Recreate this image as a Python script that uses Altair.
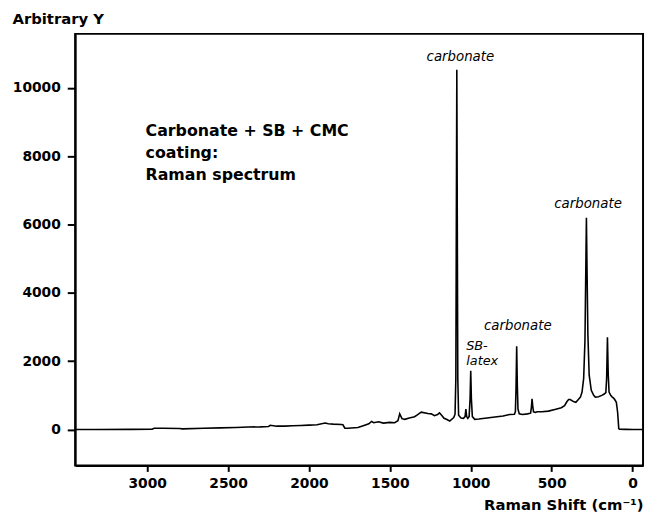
import altair as alt
import pandas as pd

# Raman spectrum (shift in cm-1, intensity in arbitrary units)
shift = [-60, 0, 40, 80, 85, 92, 100, 110, 117, 125, 135, 145, 150, 155, 160, 165, 175, 190, 210, 230,
         240, 255, 268, 276, 282, 285, 288, 294, 302, 312, 322, 335, 350, 365, 385, 395, 405, 420, 440,
         480, 520, 560, 590, 600, 612, 617, 621, 625, 630, 650, 680, 700, 708, 712, 716, 720, 724, 730,
         760, 800, 850, 900, 950, 975, 990, 996, 1000, 1004, 1010, 1018, 1025, 1030, 1035, 1045, 1060,
         1075, 1080, 1083, 1086, 1089, 1092, 1097, 1105, 1130, 1150, 1165, 1180, 1193, 1205, 1224, 1244,
         1265, 1306, 1330, 1347, 1380, 1408, 1425, 1439, 1450, 1470, 1500, 1540, 1570, 1600, 1613, 1630,
         1660, 1697, 1760, 1778, 1790, 1800, 1850, 1880, 1900, 1950, 2000, 2050, 2100, 2150, 2200, 2239,
         2250, 2300, 2374, 2450, 2550, 2650, 2782, 2800, 2900, 2957, 2970, 3100, 3300, 3445]
intensity = [0, 0, 5, 10, 30, 500, 800, 880, 920, 950, 1000, 1100, 1600, 2700, 1500, 1080, 1040, 1000, 960, 950,
             1000, 1150, 1600, 2800, 5000, 6200, 5000, 2600, 1500, 1100, 950, 880, 800, 820, 880, 880, 820, 700, 640,
             590, 540, 520, 520, 500, 520, 700, 900, 650, 480, 460, 440, 460, 600, 1300, 2440, 1200, 520, 450,
             440, 400, 370, 340, 310, 300, 380, 900, 1720, 900, 380, 330, 380, 600, 380, 330, 340,
             420, 1500, 6000, 10530, 6000, 1500, 450, 350, 250, 300, 330, 420, 490, 440, 405, 460,
             470, 510, 430, 375, 340, 300, 320, 460, 260, 200, 210, 190, 230, 200, 240, 170,
             120, 60, 40, 40, 140, 150, 160, 170, 190, 140, 130, 120, 110, 100, 100, 125,
             90, 80, 75, 60, 50, 40, 20, 30, 40, 40, 10, 5, 0, 0]

# Peak labels (italic)
peak_text = ["carbonate", "carbonate", "carbonate"]
peak_x = [1064, 275, 709]
peak_y = [10792, 6486, 2919]

latex_text = ["SB-", "latex"]
latex_x = [1028, 1028]
latex_y = [2330, 1890]

# Description block (bold)
desc_text = ["Carbonate + SB + CMC", "coating:", "Raman spectrum"]
desc_x = [3010, 3010, 3010]
desc_y = [8595, 7945, 7295]

x_ticks = [0, 500, 1000, 1500, 2000, 2500, 3000]
y_ticks = [0, 2000, 4000, 6000, 8000, 10000]

spec = pd.DataFrame({"shift": shift, "intensity": intensity})
peaks = pd.DataFrame({"shift": peak_x, "intensity": peak_y, "label": peak_text})
latex = pd.DataFrame({"shift": latex_x, "intensity": latex_y, "label": latex_text})
desc = pd.DataFrame({"shift": desc_x, "intensity": desc_y, "label": desc_text})

FONT = "DejaVu Sans"

xscale = alt.Scale(domain=[-65, 3445], reverse=True, nice=False, zero=False)
yscale = alt.Scale(domain=[-1050, 11580], nice=False, zero=False)

xaxis = alt.Axis(values=x_ticks, format="d", title="Raman Shift (cm\u207b\u00b9)", grid=False,
                 tickSize=6, labelPadding=5, titleAlign="right", titleAnchor="end",
                 titleX=575, titleY=45, titleBaseline="alphabetic")
yaxis = alt.Axis(values=y_ticks, format="d", title="Arbitrary Y", grid=False, tickSize=8, labelPadding=7,
                 titleAngle=0, titleAlign="left", titleBaseline="alphabetic",
                 titleX=-64, titleY=-11)

line = alt.Chart(spec).mark_line(color="black", strokeWidth=1.6, clip=True).encode(
    x=alt.X("shift:Q", scale=xscale, axis=xaxis),
    y=alt.Y("intensity:Q", scale=yscale, axis=yaxis),
)

peak_layer = alt.Chart(peaks).mark_text(
    font=FONT, fontSize=13.5, fontStyle="italic", align="center", baseline="alphabetic", color="black"
).encode(x="shift:Q", y="intensity:Q", text="label:N")

latex_layer = alt.Chart(latex).mark_text(
    font=FONT, fontSize=13, fontStyle="italic", align="left", baseline="alphabetic", color="black"
).encode(x="shift:Q", y="intensity:Q", text="label:N")

desc_layer = alt.Chart(desc).mark_text(
    font=FONT, fontSize=16, fontWeight="bold", align="left", baseline="alphabetic", color="black"
).encode(x="shift:Q", y="intensity:Q", text="label:N")

chart = alt.layer(line, peak_layer, latex_layer, desc_layer).properties(
    width=575, height=437,
    autosize=alt.AutoSizeParams(type="none"),
    padding={"left": 68, "top": 23, "right": 3, "bottom": 50},
).configure_view(
    stroke="black", strokeWidth=2
).configure_axis(
    labelFont=FONT, labelFontSize=14, labelFontWeight="bold", labelColor="black",
    titleFont=FONT, titleFontSize=15, titleFontWeight="bold", titleColor="black",
    tickColor="black", tickWidth=2, domainColor="black", domainWidth=2,
)

chart.save("out.html", embed_options={"renderer": "svg", "actions": False})
